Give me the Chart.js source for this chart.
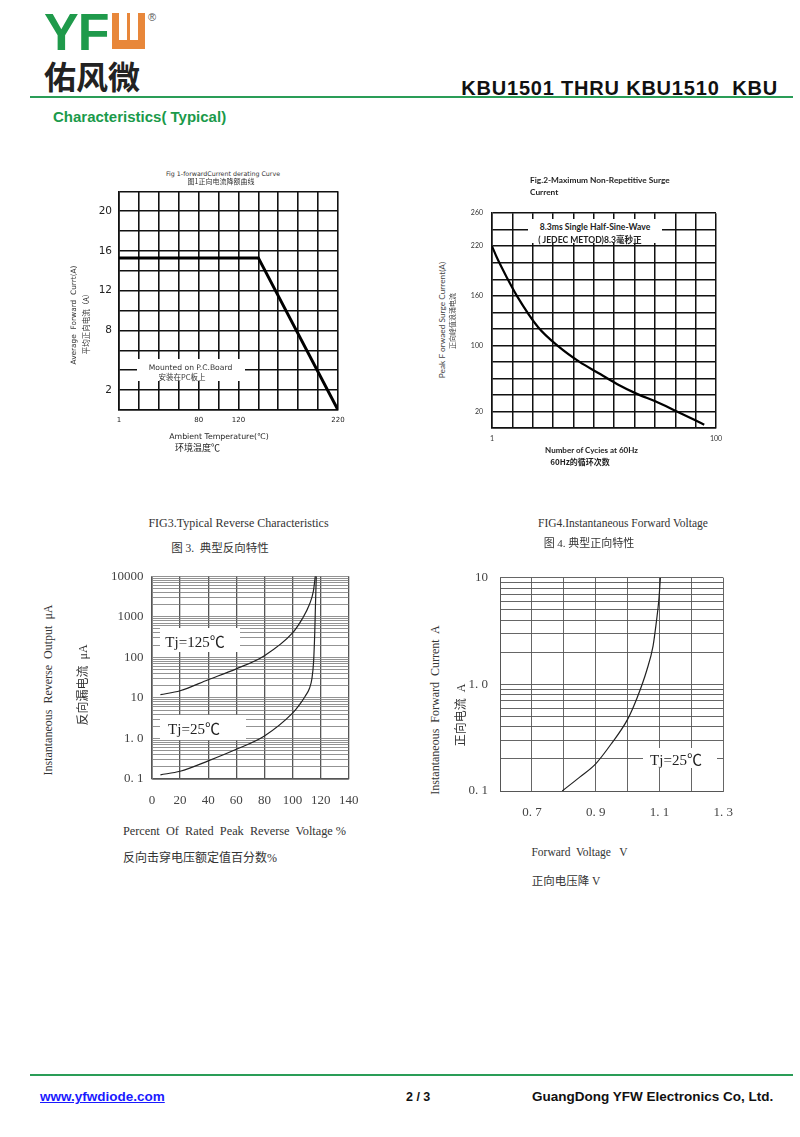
<!DOCTYPE html>
<html lang="zh">
<head>
<meta charset="utf-8">
<title>KBU1501 THRU KBU1510 KBU</title>
<script src="https://cdn.jsdelivr.net/npm/chart.js@4.4.1/dist/chart.umd.min.js"></script>
<style>
html,body{margin:0;padding:0;background:#fff}
body{position:relative;width:800px;height:1137px;overflow:hidden;font-family:"Liberation Sans",Arial,sans-serif}
canvas{position:absolute;z-index:1}
.t{position:absolute;white-space:pre;z-index:3;line-height:1}
.box{position:absolute;background:#fff;z-index:2}
.rule{position:absolute;left:30px;width:763px;height:2px;background:#2a9d57}
</style>
</head>
<body>
<!-- header -->
<div class="t" style="left:44px;top:2px;font:bold 52px 'Liberation Sans',Arial,sans-serif;color:#1f9a4b;letter-spacing:-1px">YF</div>
<div style="position:absolute;left:112px;top:13px;width:33px;height:36px;background:#e8873a"></div>
<div style="position:absolute;left:119px;top:13px;width:19px;height:27px;background:#fff"></div>
<div style="position:absolute;left:127px;top:13px;width:3px;height:27px;background:#e8873a"></div>
<div class="t" style="left:148px;top:11px;font:11px 'Liberation Sans',Arial,sans-serif;color:#555">®</div>
<div class="t" style="left:44px;top:52px;font:bold 32px 'Noto Sans CJK SC',sans-serif;color:#222">佑风微</div>
<div class="t" style="right:22px;top:77px;font:bold 20px 'Liberation Sans',Arial,sans-serif;color:#111;letter-spacing:0.8px">KBU1501 THRU KBU1510  KBU</div>
<div class="rule" style="top:96px"></div>
<div class="t" style="left:53px;top:108px;font:bold 15px 'Liberation Sans',Arial,sans-serif;color:#1a9a4a">Characteristics( Typical)</div>
<!-- footer -->
<div class="rule" style="top:1074px"></div>
<div class="t" style="left:40px;top:1089px;font:bold 13.5px 'Liberation Sans',Arial,sans-serif;color:#1a1aff;text-decoration:underline">www.yfwdiode.com</div>
<div class="t" style="left:406px;top:1090px;font:bold 12.5px 'Liberation Sans',Arial,sans-serif;color:#111">2 / 3</div>
<div class="t" style="left:532px;top:1089px;font:bold 13.5px 'Liberation Sans',Arial,sans-serif;color:#111">GuangDong YFW Electronics Co, Ltd.</div>

<script>
// ---------------- data ----------------
// Fig 1: forward current derating
const fig1Temp = [0, 140, 220];
const fig1Current = [15.3, 15.3, 0];
const fig1YTickLabels = [20, 16, 12, 8, 2];
const fig1XTickValues = [0, 80, 120, 220];
const fig1XTickText = ['1', '80', '120', '220'];

// Fig 2: maximum non-repetitive surge current
const fig2Cycles = [1, 3.2, 7.6, 12, 21.4, 30.5, 39.7, 49, 56.4, 65.3, 73.4, 82, 90.4, 94.8];
const fig2Surge = [220, 206, 182, 160, 122, 98.5, 80, 65, 53, 41, 32, 21, 10, 4];
const fig2YTickLabels = [260, 220, 160, 100, 20];
const fig2XTickLabels = [1, 100];

// Fig 3: typical reverse characteristics
const fig3Volt125 = [6, 20, 40, 60, 80, 100, 107, 112, 114.8, 116.2];
const fig3Curr125 = [12, 15, 28, 52, 110, 400, 900, 2000, 4200, 10000];
const fig3Volt25 = [6, 20, 40, 60, 80, 100, 105, 109, 112, 113.8, 115, 115.8, 116.4, 116.9];
const fig3Curr25 = [0.127, 0.155, 0.28, 0.54, 1.15, 4.2, 6.8, 11, 17, 30, 80, 400, 2500, 10000];
const fig3YTickValues = [0.1, 1, 10, 100, 1000, 10000];
const fig3YTickText = ['0. 1', '1. 0', '10', '100', '1000', '10000'];

// Fig 4: instantaneous forward voltage
const fig4Volt = [0.795, 0.85, 0.9, 0.95, 1.0, 1.03, 1.06, 1.08, 1.09, 1.098, 1.103];
const fig4Curr = [0.1, 0.135, 0.18, 0.28, 0.47, 0.75, 1.35, 2.3, 3.8, 6.2, 10];
const fig4YTickValues = [0.1, 1, 10];
const fig4YTickText = ['0. 1', '1. 0', '10'];
const fig4XTickValues = [0.7, 0.9, 1.1, 1.3];
const fig4XTickText = ['0. 7', '0. 9', '1. 1', '1. 3'];

// ---------------- helpers ----------------
const SANS = '"DejaVu Sans", sans-serif';
const LATO = 'Lato, "Open Sans", sans-serif';
const SERIF = '"Liberation Serif", "Noto Sans CJK SC", serif';
const CJK = '"Noto Sans CJK SC", sans-serif';

function place(text, x, cy, css, rot, align) {
  const d = document.createElement('div');
  d.className = 't';
  d.textContent = text;
  d.style.cssText = css;
  d.style.left = x + 'px';
  d.style.top = cy + 'px';
  const tx = align === 'left' ? '0' : '-50%';
  d.style.transform = 'translate(' + tx + ',-50%)' + (rot ? ' rotate(-90deg)' : '');
  document.body.appendChild(d);
}
function whiteBox(x1, y1, x2, y2) {
  const d = document.createElement('div');
  d.className = 'box';
  d.style.left = x1 + 'px'; d.style.top = y1 + 'px';
  d.style.width = (x2 - x1) + 'px'; d.style.height = (y2 - y1) + 'px';
  document.body.appendChild(d);
}
function near(a, b) { return Math.abs(a - b) <= Math.abs(b) * 1e-6 + 1e-9; }
function pick(values, texts) {
  return v => { for (let i = 0; i < values.length; i++) if (near(v, values[i])) return texts[i]; return ''; };
}
function logGrid(scale) {
  const t = [];
  const e0 = Math.round(Math.log10(scale.min)), e1 = Math.round(Math.log10(scale.max));
  for (let e = e0; e < e1; e++) for (let m = 1; m < 10; m++) t.push({ value: m * Math.pow(10, e) });
  t.push({ value: scale.max });
  scale.ticks = t;
}
function series(xs, ys, color, width, smooth) {
  return {
    data: xs.map((x, i) => ({ x: x, y: ys[i] })),
    showLine: true, borderColor: color, borderWidth: width, pointRadius: 0,
    fill: false, tension: 0, cubicInterpolationMode: smooth ? 'monotone' : 'default',
    borderCapStyle: 'butt', borderJoinStyle: 'miter'
  };
}
function makeChart(area, m, xScale, yScale, datasets) {
  const W = Math.round(area.w + m.l + m.r), H = Math.round(area.h + m.t + m.b);
  const c = document.createElement('canvas');
  c.width = W; c.height = H;
  c.style.left = (area.x - m.l) + 'px';
  c.style.top = (area.y - m.t) + 'px';
  c.style.width = W + 'px'; c.style.height = H + 'px';
  document.body.appendChild(c);
  xScale.afterFit = s => { s.height = m.b; };
  yScale.afterFit = s => { s.width = m.l; };
  return new Chart(c, {
    type: 'scatter',
    data: { datasets: datasets },
    options: {
      responsive: false, animation: false, devicePixelRatio: 1,
      layout: { padding: { top: m.t, right: m.r, left: 0, bottom: 0 } },
      plugins: { legend: { display: false }, tooltip: { enabled: false }, title: { display: false } },
      scales: { x: xScale, y: yScale },
      elements: { point: { radius: 0 } }
    }
  });
}
function linAxis(min, max, step, callback, font, color, pad, grid) {
  return {
    type: 'linear', min: min, max: max,
    ticks: { stepSize: step, autoSkip: false, maxRotation: 0, maxTicksLimit: 40, padding: pad,
             font: font, color: color, callback: callback },
    grid: { color: grid.color, lineWidth: grid.width, drawTicks: false },
    border: { display: true, color: grid.color, width: grid.width }
  };
}
function logAxis(min, max, callback, font, color, pad, grid) {
  return {
    type: 'logarithmic', min: min, max: max, afterBuildTicks: logGrid,
    ticks: { autoSkip: false, maxRotation: 0, padding: pad, font: font, color: color, callback: callback },
    grid: { color: grid.color, lineWidth: grid.width, drawTicks: false },
    border: { display: true, color: grid.color, width: grid.width }
  };
}

// ---------------- Fig 1 ----------------
makeChart({ x: 119, y: 190, w: 218.5, h: 220 }, { l: 45, r: 20, t: 12, b: 20 },
  linAxis(0, 220, 20, pick(fig1XTickValues, fig1XTickText), { family: SANS, size: 7 }, '#222', 6, { color: '#111', width: 1.6 }),
  linAxis(0, 22, 2, v => fig1YTickLabels.includes(v) ? String(v) : '', { family: SANS, size: 10.5 }, '#222', 7, { color: '#111', width: 1.6 }),
  [series(fig1Temp, fig1Current, '#000', 3, false)]);
whiteBox(137, 359, 245, 381);
place('Fig 1-forwardCurrent derating Curve', 223, 172.5, 'font:6.3px ' + SANS + ';color:#333');
place('图1正向电流降额曲线', 221, 180.5, 'font:7px ' + CJK + ';color:#333');
place('Average  Forward  Currt(A)', 73, 315, 'font:7.4px ' + SANS + ';color:#333', true);
place('平均正向电流（A）', 84.5, 322, 'font:7.5px ' + CJK + ';color:#333', true);
place('Ambient Temperature(℃)', 219, 436, 'font:7.8px ' + SANS + ';color:#222');
place('环境温度℃', 197.5, 446.5, 'font:9px ' + CJK + ';color:#222');
place('Mounted on P.C.Board', 190.5, 366.5, 'font:7.6px ' + SANS + ';color:#333');
place('安装在PC板上', 182, 375.5, 'font:7.5px ' + CJK + ';color:#333');

// ---------------- Fig 2 ----------------
makeChart({ x: 492, y: 210, w: 224, h: 217.5 }, { l: 40, r: 16, t: 10, b: 20 },
  linAxis(1, 100, 9, v => fig2XTickLabels.some(t => near(v, t)) ? String(Math.round(v)) : '', { family: LATO, size: 7 }, '#333', 6.5, { color: '#111', width: 1.5 }),
  linAxis(0, 260, 20, v => fig2YTickLabels.includes(v) ? String(v) : '', { family: LATO, size: 7 }, '#333', 9, { color: '#111', width: 1.5 }),
  [series(fig2Cycles, fig2Surge, '#000', 2.2, true)]);
whiteBox(528, 219, 662, 243);
place('Fig.2-Maximum Non-Repetitive Surge', 530, 180, 'font:bold 8.3px ' + LATO + ';color:#222', false, 'left');
place('Current', 530, 192, 'font:bold 8.3px ' + LATO + ';color:#222', false, 'left');
place('Peak F orwaed Surge Current(A)', 441.5, 320, 'font:8.3px ' + LATO + ';color:#444', true);
place('正向峰值浪涌电流', 452, 321, 'font:7px ' + CJK + ';color:#444', true);
place('Number of Cycies at 60Hz', 591.5, 450, 'font:bold 8px ' + LATO + ';color:#222');
place('60Hz的循环次数', 580, 460.5, 'font:bold 8px ' + CJK + ';color:#222');
place('8.3ms Single Half-Sine-Wave', 595, 227, 'font:bold 8.6px ' + LATO + ';color:#222');
place('( JEDEC METOD)8.3毫秒正', 590, 239, 'font:bold 8.6px ' + LATO + ',' + CJK + ';color:#222');

// ---------------- Fig 3 ----------------
makeChart({ x: 151.7, y: 571.7, w: 200, h: 206.6 }, { l: 50, r: 20, t: 12, b: 30 },
  linAxis(0, 140, 20, v => String(v), { family: SERIF, size: 13 }, '#444', 13.5, { color: '#555', width: 1.3 }),
  logAxis(0.1, 10000, pick(fig3YTickValues, fig3YTickText), { family: SERIF, size: 13 }, '#444', 8.4, { color: '#777', width: 0.8 }),
  [series(fig3Volt125, fig3Curr125, '#222', 1.2, true), series(fig3Volt25, fig3Curr25, '#222', 1.2, true)]);
whiteBox(160, 628, 240, 652);
whiteBox(160, 715, 246, 740);
place('FIG3.Typical Reverse Characteristics', 238.5, 523, 'font:12px ' + SERIF + ';color:#333');
place('图 3.  典型反向特性', 220, 547, 'font:11.5px ' + SERIF + ';color:#333');
place('Instantaneous  Reverse  Output  μA', 48, 690, 'font:12px ' + SERIF + ';color:#333', true);
place('反向漏电流  μA', 82, 685, 'font:12px ' + SERIF + ';color:#333', true);
place('Percent  Of  Rated  Peak  Reverse  Voltage %', 234.5, 831, 'font:12.3px ' + SERIF + ';color:#333');
place('反向击穿电压额定值百分数%', 200, 857, 'font:12px ' + SERIF + ';color:#333');
place('Tj=125℃', 195, 640, 'font:15px ' + SERIF + ';color:#222');
place('Tj=25℃', 194, 727, 'font:15px ' + SERIF + ';color:#222');

// ---------------- Fig 4 ----------------
makeChart({ x: 500, y: 570, w: 227, h: 221 }, { l: 35, r: 20, t: 12, b: 30 },
  linAxis(0.6, 1.3, 0.1, pick(fig4XTickValues, fig4XTickText), { family: SERIF, size: 13 }, '#444', 14, { color: '#555', width: 0.9 }),
  logAxis(0.1, 10, pick(fig4YTickValues, fig4YTickText), { family: SERIF, size: 13 }, '#444', 12, { color: '#555', width: 0.9 }),
  [series(fig4Volt, fig4Curr, '#222', 1.2, true)]);
whiteBox(643, 748, 717, 768);
place('FIG4.Instantaneous Forward Voltage', 623, 523, 'font:11.5px ' + SERIF + ';color:#333');
place('图 4. 典型正向特性', 589, 542, 'font:11px ' + SERIF + ';color:#333');
place('Instantaneous  Forward  Current  A', 435, 710, 'font:12px ' + SERIF + ';color:#333', true);
place('正向电流  A', 460, 715, 'font:12px ' + SERIF + ';color:#333', true);
place('Forward  Voltage   V', 579.5, 852, 'font:11.5px ' + SERIF + ';color:#333');
place('正向电压降 V', 566, 880, 'font:11.5px ' + SERIF + ';color:#333');
place('Tj=25℃', 676, 758, 'font:15px ' + SERIF + ';color:#222');
</script>
</body>
</html>
